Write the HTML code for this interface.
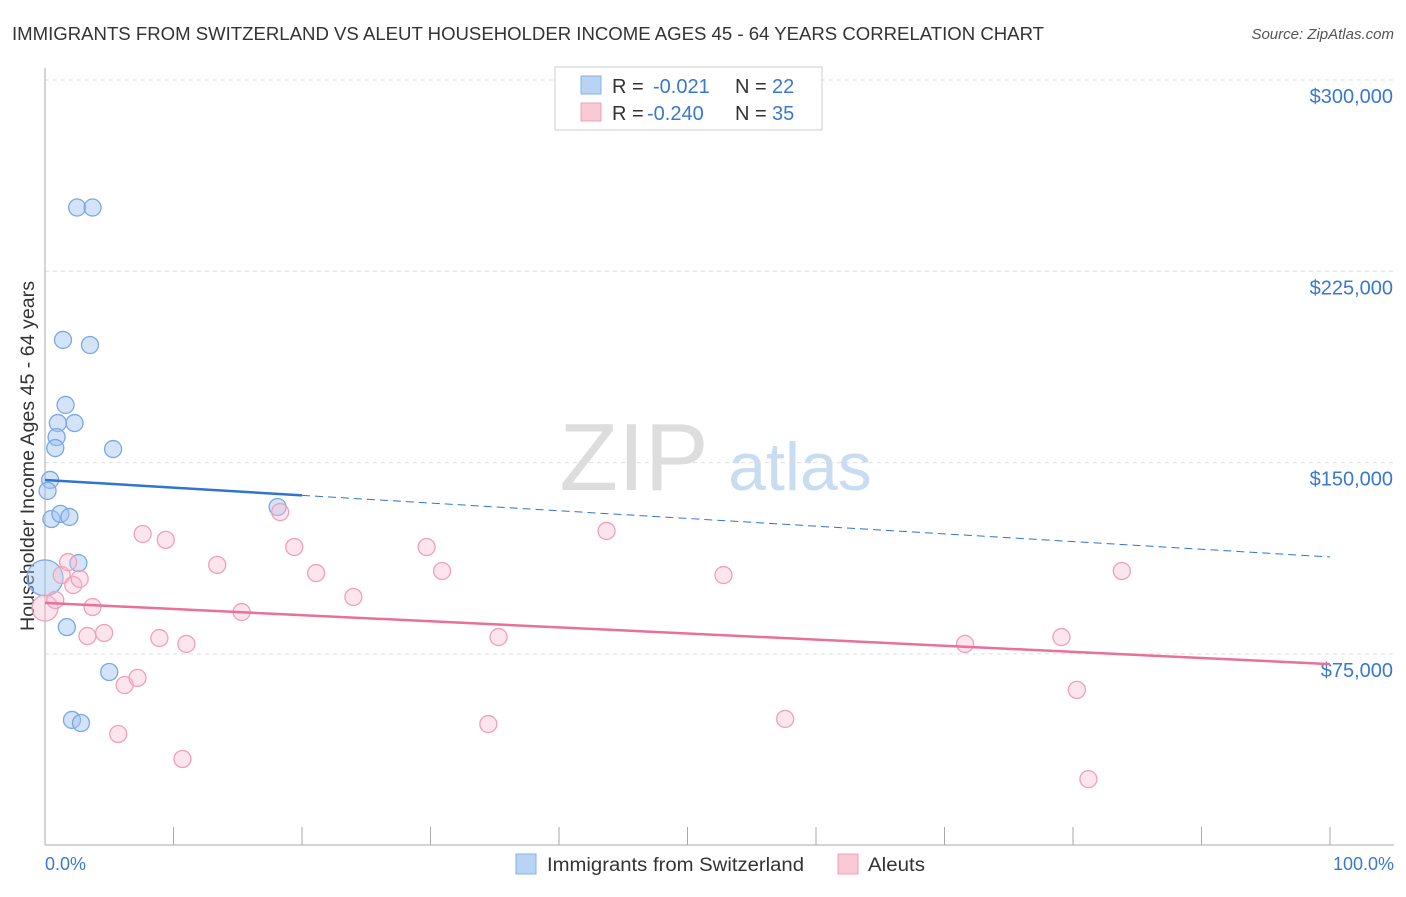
<!DOCTYPE html>
<html><head><meta charset="utf-8"><style>
body{margin:0;background:#fff;font-family:"Liberation Sans",sans-serif;}
svg text{font-family:"Liberation Sans",sans-serif;}
</style></head><body>
<svg id="c" width="1406" height="892">
<text x="12" y="40" font-size="18" fill="#333" textLength="1032" lengthAdjust="spacingAndGlyphs">IMMIGRANTS FROM SWITZERLAND VS ALEUT HOUSEHOLDER INCOME AGES 45 - 64 YEARS CORRELATION CHART</text>
<text x="1394" y="39" font-size="15" fill="#555" text-anchor="end" font-style="italic">Source: ZipAtlas.com</text>
<text x="634" y="490" font-size="96" fill="#ddd" font-family="Liberation Serif" text-anchor="middle">ZIP</text>
<text x="800" y="490" font-size="68" fill="#c8dcf2" text-anchor="middle">atlas</text>
<text transform="translate(34,456) rotate(-90)" font-size="19" fill="#333" text-anchor="middle" textLength="350" lengthAdjust="spacingAndGlyphs">Householder Income Ages 45 - 64 years</text>
<g id="grid"></g><g id="pts"></g>
<g>
<rect x="555" y="67" width="267" height="63" fill="#fff" stroke="#ccc"/>
<rect x="581" y="76" width="20" height="18" fill="#b9d3f5" stroke="#8ab0e8"/>
<text x="612" y="93" font-size="20" fill="#333">R = </text><text x="653" y="93" font-size="20" fill="#3a78d0">-0.021</text>
<text x="735" y="93" font-size="20" fill="#333">N = </text><text x="772" y="93" font-size="20" fill="#3a78d0">22</text>
<rect x="581" y="103" width="20" height="18" fill="#f9c9d6" stroke="#eea0b6"/>
<text x="612" y="120" font-size="20" fill="#333">R = </text><text x="647" y="120" font-size="20" fill="#3a78d0">-0.240</text>
<text x="735" y="120" font-size="20" fill="#333">N = </text><text x="772" y="120" font-size="20" fill="#3a78d0">35</text>
</g>
<g>
<rect x="516" y="854" width="20" height="20" fill="#b9d3f5" stroke="#8ab0e8"/>
<text x="547" y="871" font-size="19" fill="#333" textLength="257" lengthAdjust="spacingAndGlyphs">Immigrants from Switzerland</text>
<rect x="838" y="854" width="20" height="20" fill="#f9c9d6" stroke="#eea0b6"/>
<text x="868" y="871" font-size="19" fill="#333" textLength="57" lengthAdjust="spacingAndGlyphs">Aleuts</text>
</g>
<text x="45" y="870" font-size="18" fill="#3a78d0">0.0%</text>
<text x="1394" y="870" font-size="18" fill="#3a78d0" text-anchor="end">100.0%</text>
</svg>
<script>
const yTicks=[300000,225000,150000,75000];
const yTickLabels=["$300,000","$225,000","$150,000","$75,000"];
const blueX=[2.5,3.7,1.4,3.5,1.6,1.0,2.3,0.9,0.8,5.3,0.4,0.2,0.5,1.2,1.9,2.6,18.1,1.7,5.0,2.1,2.8,0];
const blueY=[250000,250000,198100,196100,172600,165500,165500,160000,155700,155300,143200,138900,127900,129900,128700,110600,132600,85500,67900,49100,47900,104800];
const pinkX=[0,0.8,1.3,1.8,2.2,2.7,3.7,3.3,4.6,5.7,6.2,7.2,7.6,9.4,8.9,11.0,10.7,13.4,15.3,18.3,19.4,21.1,24.0,29.7,30.9,34.5,35.3,43.7,52.8,57.6,71.6,79.1,80.3,81.2,83.8];
const pinkY=[93000,96100,105900,111000,102000,104400,93400,82000,83200,43600,62800,65600,122000,119700,81200,78900,33800,109900,91400,130600,116900,106700,97300,116900,107500,47500,81600,123200,105900,49500,78900,81600,60900,25900,107500];
const blueTrend=[143200,113000];
const pinkTrend=[95000,71000];
const NS="http://www.w3.org/2000/svg";
const X=p=>45+p/100*1285, Y=v=>80+(300000-v)/75000*191.3;
function mk(t,a,parent){const e=document.createElementNS(NS,t);for(const k in a)e.setAttribute(k,a[k]);parent.appendChild(e);return e;}
const g=document.getElementById('grid'),P=document.getElementById('pts');
yTicks.forEach((v,i)=>{
 const l=mk('line',{x1:45,x2:1394,y1:Y(v),y2:Y(v),stroke:'#ddd','stroke-dasharray':'4,4'},g);
 
 
 const t=mk('text',{x:1393,y:Y(v)+23,'font-size':20,fill:'#3a78d0','text-anchor':'end'},g);t.textContent=yTickLabels[i];
 
 
});
mk('line',{x1:45,x2:45,y1:68,y2:845,stroke:'#aaa'},g);
mk('line',{x1:45,x2:1394,y1:845,y2:845,stroke:'#aaa'},g);
for(let i=0;i<=10;i++){const t=mk('line',{x1:X(i*10),x2:X(i*10),y1:827,y2:845,stroke:'#aaa'},g);
 
 }
blueX.forEach((x,i)=>{const big=(x===0);const c=mk('circle',{cx:X(x),cy:Y(blueY[i]),r:big?18:8.5,fill:'rgba(160,195,240,0.45)',stroke:'#7aa8e6','stroke-width':1.3},P);
 
 });
pinkX.forEach((x,i)=>{const big=(x===0);const c=mk('circle',{cx:X(x),cy:Y(pinkY[i]),r:big?13:8.5,fill:'rgba(248,190,208,0.4)',stroke:'#f0a0b8','stroke-width':1.3},P);
 
 });
const bAt=p=>blueTrend[0]+(blueTrend[1]-blueTrend[0])*p/100;
const bl=mk('line',{x1:X(0),y1:Y(bAt(0)),x2:X(20),y2:Y(bAt(20)),stroke:'#2f74d0','stroke-width':2.5},P);


const bd=mk('line',{x1:X(20),y1:Y(bAt(20)),x2:X(100),y2:Y(bAt(100)),stroke:'#2f74d0','stroke-width':1,'stroke-dasharray':'8,5'},P);


const pl=mk('line',{x1:X(0),y1:Y(pinkTrend[0]),x2:X(100),y2:Y(pinkTrend[1]),stroke:'#e8709a','stroke-width':2.5},P);


</script>
</body></html>
